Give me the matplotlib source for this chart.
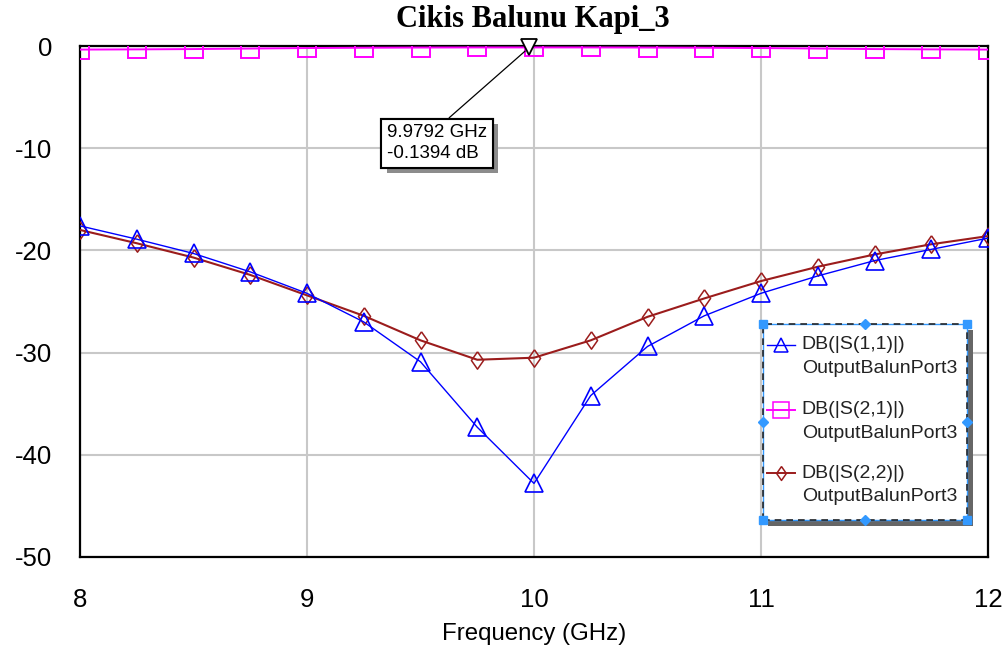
import matplotlib
matplotlib.use("Agg")
import matplotlib.pyplot as plt
import matplotlib.patheffects as pe
from matplotlib.patches import Rectangle

# =====================
# DATA
# =====================
freq_ghz = [8.0, 8.25, 8.5, 8.75, 9.0, 9.25, 9.5, 9.75, 10.0,
            10.25, 10.5, 10.75, 11.0, 11.25, 11.5, 11.75, 12.0]
s11_db = [-17.6, -18.9, -20.3, -22.1, -24.2, -27.0, -30.9, -37.3, -42.8,
          -34.2, -29.4, -26.4, -24.2, -22.5, -21.0, -19.9, -18.8]
s21_db = [-0.35, -0.33, -0.30, -0.25, -0.20, -0.17, -0.15, -0.14, -0.14,
          -0.14, -0.15, -0.17, -0.20, -0.25, -0.30, -0.33, -0.35]
s22_db = [-18.0, -19.3, -20.7, -22.4, -24.4, -26.4, -28.8, -30.7, -30.5,
          -28.8, -26.5, -24.7, -23.0, -21.6, -20.4, -19.4, -18.6]

marker_freq = 9.9792
marker_db = -0.1394

series_names = ["DB(|S(1,1)|)", "DB(|S(2,1)|)", "DB(|S(2,2)|)"]
source_name = "OutputBalunPort3"
x_ticks = [8, 9, 10, 11, 12]
y_ticks = [0, -10, -20, -30, -40, -50]

# =====================
# STYLE
# =====================
plt.rcParams.update({
    "font.family": "Liberation Sans",
    "font.size": 14,
    "axes.unicode_minus": False,
})

BLUE = "#0000ff"
PINK = "#ff00ff"
RED = "#9b1c1c"
HANDLE = "#3399ff"
DIAMOND = [(0, 1), (0.7, 0), (0, -1), (-0.7, 0), (0, 1)]

fig = plt.figure(figsize=(10.08, 6.52), dpi=100)
ax = fig.add_axes([80 / 1008, 95 / 652, 908 / 1008, 511 / 652])

# =====================
# CURVES
# =====================
ax.plot(freq_ghz, s22_db, color=RED, lw=1.5, marker=DIAMOND, ms=12.5,
        mfc="none", mec=RED, mew=1.1, zorder=3)
ax.plot(freq_ghz, s11_db, color=BLUE, lw=1.0, marker="^", ms=12.5,
        mfc="none", mec=BLUE, mew=1.2, zorder=4)
ax.plot(freq_ghz, s21_db, color=PINK, lw=1.4, marker="s", ms=12.5,
        mfc="none", mec=PINK, mew=1.4, zorder=4)

# marker on S21
ax.plot([marker_freq], [marker_db], marker="v", ms=11, mfc="white",
        mec="black", mew=1.3, ls="none", clip_on=False, zorder=6)

ann = ax.annotate(
    f"{marker_freq:.4f} GHz\n{marker_db:.4f} dB",
    xy=(marker_freq, marker_db), xytext=(9.352, -9.5),
    ha="left", va="center", fontsize=13.5, linespacing=1.3,
    bbox=dict(boxstyle="square,pad=0.3", fc="white", ec="black", lw=1.5),
    arrowprops=dict(arrowstyle="-", color="black", lw=0.9,
                    relpos=(0.55, 1.0), shrinkA=0, shrinkB=4),
    zorder=7,
)
ann.get_bbox_patch().set_path_effects([
    pe.withSimplePatchShadow(offset=(4, -4), shadow_rgbFace="0.55", alpha=1.0),
    pe.Normal(),
])

# =====================
# AXES
# =====================
ax.set_xlim(8, 12)
ax.set_ylim(-50, 0)
ax.set_xticks(x_ticks)
ax.set_yticks(y_ticks)
ax.tick_params(length=0, pad=20, labelsize=18.5)
ax.tick_params(axis="x", pad=22)
ax.grid(color="#c8c8c8", lw=1.5)
ax.set_axisbelow(True)
for sp in ax.spines.values():
    sp.set_linewidth(1.6)
    sp.set_color("black")

ax.set_xlabel("Frequency (GHz)", fontsize=17.3, labelpad=8)
fig.text(533 / 1008, 1 - 19 / 652, "Cikis Balunu Kapi_3", ha="center",
         va="center", fontsize=22, fontweight="bold",
         fontfamily="Liberation Serif")

# =====================
# LEGEND (drawn by hand, AWR style)
# =====================
lx0, lx1 = 0.752, 0.977
ly0, ly1 = 0.072, 0.456
tr = ax.transAxes
ax.add_patch(Rectangle((lx0 + 0.006, ly0 - 0.011), lx1 - lx0, ly1 - ly0,
                       transform=tr, fc="0.4", ec="none", zorder=8))
ax.add_patch(Rectangle((lx0, ly0), lx1 - lx0, ly1 - ly0, transform=tr,
                       fc="white", ec=HANDLE, lw=1.0, zorder=9))
ax.add_patch(Rectangle((lx0, ly0), lx1 - lx0, ly1 - ly0, transform=tr,
                       fill=False, ec="0.15", lw=1.2, ls=(0, (4, 3)), zorder=10))

rows = [0.415, 0.288, 0.164]
styles = [(BLUE, "^", 10, 1.0), (PINK, "s", 11, 1.4), (RED, DIAMOND, 10, 1.4)]
for name, y, (c, m, ms, lw) in zip(series_names, rows, styles):
    ax.plot([0.757, 0.787], [y, y], color=c, lw=lw, transform=tr,
            clip_on=False, zorder=11)
    ax.plot([0.772], [y], marker=m, ms=ms, mfc="none", mec=c, mew=1.1,
            transform=tr, clip_on=False, zorder=11)
    ax.text(0.795, y, name, transform=tr, va="center", ha="left",
            fontsize=14, color="#222222", zorder=11)
    ax.text(0.795, y - 0.046, source_name, transform=tr, va="center",
            ha="left", fontsize=14, color="#222222", zorder=11)

# selection handles
xm = (lx0 + lx1) / 2
ym = (ly0 + ly1) / 2
ax.plot([lx0, lx1, lx0, lx1], [ly0, ly0, ly1, ly1], "s", color=HANDLE,
        ms=6, transform=tr, clip_on=False, zorder=12)
ax.plot([xm, xm, lx0, lx1], [ly0, ly1, ym, ym], "D", color=HANDLE,
        ms=5, transform=tr, clip_on=False, zorder=12)

fig.savefig("out.png", dpi=100)
